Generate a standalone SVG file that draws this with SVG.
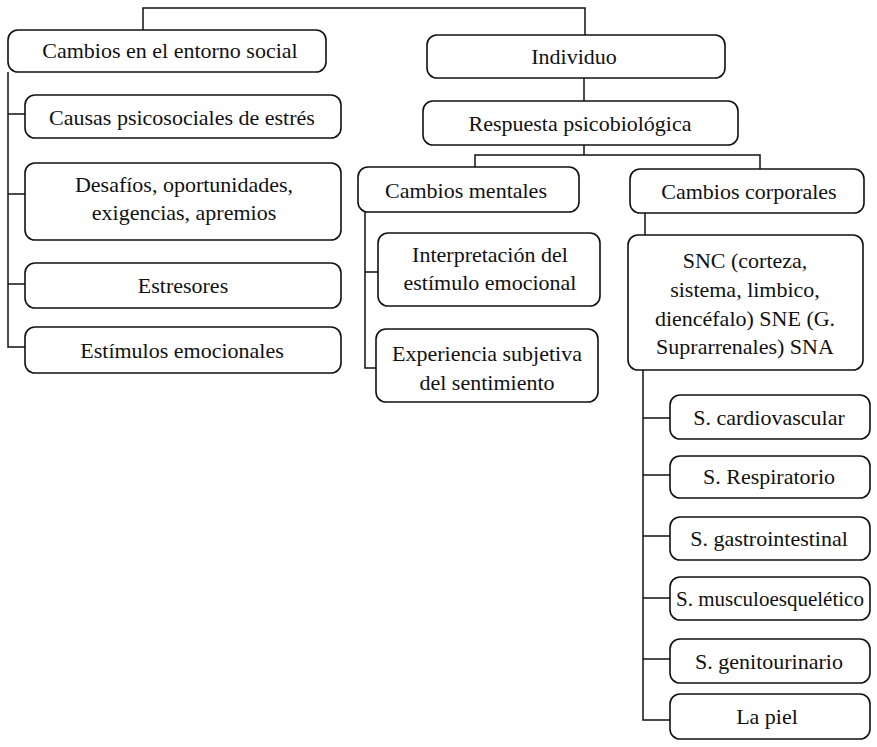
<svg xmlns="http://www.w3.org/2000/svg" width="877" height="747" viewBox="0 0 877 747">
<defs>
<style>
.box{fill:#fff;stroke:#111;stroke-width:1.6}
.ln{fill:none;stroke:#111;stroke-width:1.5}
</style>
</defs>
<rect width="877" height="747" fill="#fff"/>
<g id="connectors">
<polyline class="ln" points="143,30 143,8 585,8 585,35"/>
<line class="ln" x1="584" y1="78" x2="584" y2="101"/>
<polyline class="ln" points="8,72 8,347 25,347"/>
<line class="ln" x1="8" y1="114" x2="25" y2="114"/>
<line class="ln" x1="8" y1="194" x2="25" y2="194"/>
<line class="ln" x1="8" y1="284" x2="25" y2="284"/>
<line class="ln" x1="584" y1="145" x2="584" y2="155"/>
<polyline class="ln" points="475,167 475,155 760,155 760,169"/>
<polyline class="ln" points="365,212 365,368 377,368"/>
<line class="ln" x1="365" y1="272" x2="378" y2="272"/>
<line class="ln" x1="645" y1="213" x2="645" y2="235"/>
<polyline class="ln" points="643,370 643,720 670,720"/>
<line class="ln" x1="643" y1="418" x2="670" y2="418"/>
<line class="ln" x1="643" y1="475" x2="670" y2="475"/>
<line class="ln" x1="643" y1="536" x2="670" y2="536"/>
<line class="ln" x1="643" y1="598" x2="670" y2="598"/>
<line class="ln" x1="643" y1="659" x2="670" y2="659"/>
</g>
<g id="n-entorno"><rect class="box" x="8" y="30" width="318" height="42" rx="10"/><text style="font-family:'Liberation Serif',serif;font-size:22px" fill="#111" text-anchor="middle" x="170" y="58">Cambios en el entorno social</text></g>
<g id="n-individuo"><rect class="box" x="427" y="35" width="298" height="43" rx="10"/><text style="font-family:'Liberation Serif',serif;font-size:22px" fill="#111" text-anchor="middle" x="574" y="64">Individuo</text></g>
<g id="n-respuesta"><rect class="box" x="423" y="101" width="315" height="44" rx="10"/><text style="font-family:'Liberation Serif',serif;font-size:22px" fill="#111" text-anchor="middle" x="580" y="131">Respuesta psicobiológica</text></g>
<g id="n-causas"><rect class="box" x="25" y="95" width="316" height="43" rx="10"/><text style="font-family:'Liberation Serif',serif;font-size:22px" fill="#111" text-anchor="middle" x="182" y="125">Causas psicosociales de estrés</text></g>
<g id="n-desafios"><rect class="box" x="25" y="163" width="316" height="77" rx="10"/><text style="font-family:'Liberation Serif',serif;font-size:22px" fill="#111" text-anchor="middle" x="184" y="192">Desafíos, oportunidades,</text><text style="font-family:'Liberation Serif',serif;font-size:22px" fill="#111" text-anchor="middle" x="184" y="220">exigencias, apremios</text></g>
<g id="n-estresores"><rect class="box" x="25" y="263" width="316" height="45" rx="10"/><text style="font-family:'Liberation Serif',serif;font-size:22px" fill="#111" text-anchor="middle" x="183" y="293">Estresores</text></g>
<g id="n-estimulos"><rect class="box" x="25" y="327" width="316" height="46" rx="10"/><text style="font-family:'Liberation Serif',serif;font-size:22px" fill="#111" text-anchor="middle" x="182" y="358">Estímulos emocionales</text></g>
<g id="n-mentales"><rect class="box" x="358" y="167" width="221" height="45" rx="10"/><text style="font-family:'Liberation Serif',serif;font-size:22px" fill="#111" text-anchor="middle" x="466" y="198">Cambios mentales</text></g>
<g id="n-interpretacion"><rect class="box" x="378" y="233" width="222" height="73" rx="10"/><text style="font-family:'Liberation Serif',serif;font-size:22px" fill="#111" text-anchor="middle" x="490" y="262">Interpretación del</text><text style="font-family:'Liberation Serif',serif;font-size:22px" fill="#111" text-anchor="middle" x="490" y="290">estímulo emocional</text></g>
<g id="n-experiencia"><rect class="box" x="376" y="329" width="222" height="73" rx="10"/><text style="font-family:'Liberation Serif',serif;font-size:22px" fill="#111" text-anchor="middle" x="487" y="361">Experiencia subjetiva</text><text style="font-family:'Liberation Serif',serif;font-size:22px" fill="#111" text-anchor="middle" x="487" y="390">del sentimiento</text></g>
<g id="n-corporales"><rect class="box" x="630" y="169" width="234" height="44" rx="10"/><text style="font-family:'Liberation Serif',serif;font-size:22px" fill="#111" text-anchor="middle" x="749" y="199">Cambios corporales</text></g>
<g id="n-snc"><rect class="box" x="628" y="235" width="235" height="135" rx="10"/><text style="font-family:'Liberation Serif',serif;font-size:22px" fill="#111" text-anchor="middle" x="745" y="268">SNC (corteza,</text><text style="font-family:'Liberation Serif',serif;font-size:22px" fill="#111" text-anchor="middle" x="745" y="297">sistema, limbico,</text><text style="font-family:'Liberation Serif',serif;font-size:22px" fill="#111" text-anchor="middle" x="745" y="326">diencéfalo) SNE (G.</text><text style="font-family:'Liberation Serif',serif;font-size:22px" fill="#111" text-anchor="middle" x="745" y="354">Suprarrenales) SNA</text></g>
<g id="n-cardio"><rect class="box" x="670" y="395" width="200" height="44" rx="10"/><text style="font-family:'Liberation Serif',serif;font-size:22px" fill="#111" text-anchor="middle" x="769" y="425">S. cardiovascular</text></g>
<g id="n-resp"><rect class="box" x="670" y="456" width="200" height="42" rx="10"/><text style="font-family:'Liberation Serif',serif;font-size:22px" fill="#111" text-anchor="middle" x="769" y="484">S. Respiratorio</text></g>
<g id="n-gastro"><rect class="box" x="670" y="517" width="200" height="43" rx="10"/><text style="font-family:'Liberation Serif',serif;font-size:22px" fill="#111" text-anchor="middle" x="769" y="546">S. gastrointestinal</text></g>
<g id="n-musculo"><rect class="box" x="670" y="577" width="200" height="43" rx="10"/><text style="font-family:'Liberation Serif',serif;font-size:21px" fill="#111" text-anchor="middle" x="770" y="606">S. musculoesquelético</text></g>
<g id="n-genito"><rect class="box" x="670" y="639" width="200" height="44" rx="10"/><text style="font-family:'Liberation Serif',serif;font-size:22px" fill="#111" text-anchor="middle" x="769" y="669">S. genitourinario</text></g>
<g id="n-piel"><rect class="box" x="670" y="694" width="200" height="45" rx="10"/><text style="font-family:'Liberation Serif',serif;font-size:22px" fill="#111" text-anchor="middle" x="767" y="724">La piel</text></g>
</svg>
